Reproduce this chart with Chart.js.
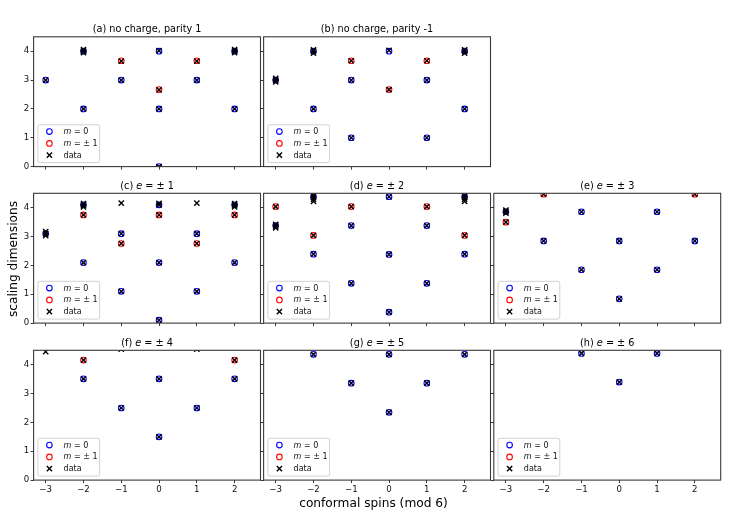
<!DOCTYPE html>
<html>
<head>
<meta charset="utf-8">
<script src="https://cdn.jsdelivr.net/npm/chart.js@4.4.1/dist/chart.umd.min.js"></script>
<style>
  html, body { margin: 0; padding: 0; background: #fff; }
  #page { position: relative; width: 747px; height: 518px; overflow: hidden; background: #fff; }
  #page canvas { position: absolute; left: 0; top: 0; }
</style>
</head>
<body>
<div id="page"></div>
<script>
// Axes ticks
const spinTicks = [-3, -2, -1, 0, 1, 2];
const dimTicks = [0, 1, 2, 3, 4];

// Texts
const panelTitles = [
    '(a) no charge, parity 1',
    '(b) no charge, parity -1',
    '(c) $e$ = ± 1',
    '(d) $e$ = ± 2',
    '(e) $e$ = ± 3',
    '(f) $e$ = ± 4',
    '(g) $e$ = ± 5',
    '(h) $e$ = ± 6'
];
const legendLabels = ['$m$ = 0', '$m$ = ± 1', 'data'];
const xAxisTitle = 'conformal spins (mod 6)';
const yAxisTitle = 'scaling dimensions';

// Points as [spin, scaling dimension]
// (a) no charge, parity 1
const aM0 = [[-3, 3], [-2, 2], [-2, 4], [-1, 3], [0, 0], [0, 2], [0, 4], [1, 3], [2, 2], [2, 4]];
const aM1 = [[-1, 3.67], [0, 2.67], [1, 3.67]];
const aData = [[-3, 3.0], [-2, 2.0], [-2, 3.95], [-2, 4.0], [-2, 4.06], [-1, 3.0], [-1, 3.66], [0, 0.0],
    [0, 2.0], [0, 2.66], [0, 4.02], [1, 3.0], [1, 3.66], [2, 2.0], [2, 3.95], [2, 4.01], [2, 4.06]];

// (b) no charge, parity -1
const bM0 = [[-3, 3], [-2, 2], [-2, 4], [-1, 1], [-1, 3], [0, 4], [1, 1], [1, 3], [2, 2], [2, 4]];
const bM1 = [[-1, 3.67], [0, 2.67], [1, 3.67]];
const bData = [[-3, 2.94], [-3, 3.0], [-3, 3.06], [-2, 2.0], [-2, 3.93], [-2, 4.0], [-2, 4.05], [-1, 1.0],
    [-1, 3.0], [-1, 3.67], [0, 2.67], [0, 4.03], [1, 1.0], [1, 3.0], [1, 3.67], [2, 2.0], [2, 3.93], [2, 4.0], [2, 4.05]];

// (c) e = ±1
const cM0 = [[-3, 3.1], [-2, 2.1], [-2, 4.1], [-1, 1.1], [-1, 3.1], [0, 0.1], [0, 2.1], [0, 4.1], [1, 1.1],
    [1, 3.1], [2, 2.1], [2, 4.1]];
const cM1 = [[-2, 3.75], [-1, 2.76], [0, 3.75], [1, 2.76], [2, 3.75]];
const cData = [[-3, 3.03], [-3, 3.1], [-3, 3.17], [-2, 2.1], [-2, 3.75], [-2, 4.03], [-2, 4.09], [-2, 4.14],
    [-1, 1.1], [-1, 2.76], [-1, 3.1], [-1, 4.16], [0, 0.1], [0, 2.1], [0, 3.75], [0, 4.09], [0, 4.15],
    [1, 1.1], [1, 2.76], [1, 3.1], [1, 4.16], [2, 2.1], [2, 3.75], [2, 4.03], [2, 4.09], [2, 4.14]];

// (d) e = ±2
const dM0 = [[-3, 3.38], [-2, 2.39], [-2, 4.38], [-1, 1.38], [-1, 3.38], [0, 0.38], [0, 2.38], [0, 4.38],
    [1, 1.38], [1, 3.38], [2, 2.39], [2, 4.38]];
const dM1 = [[-3, 4.04], [-2, 3.04], [-1, 4.04], [1, 4.04], [2, 3.04]];
const dData = [[-3, 3.30], [-3, 3.36], [-3, 3.42], [-3, 4.04], [-2, 2.39], [-2, 3.04], [-2, 4.22], [-2, 4.30],
    [-2, 4.37], [-2, 4.43], [-1, 1.38], [-1, 3.38], [-1, 4.04], [0, 0.38], [0, 2.38], [0, 4.38],
    [1, 1.38], [1, 3.38], [1, 4.04], [2, 2.39], [2, 3.04], [2, 4.22], [2, 4.30], [2, 4.37], [2, 4.43]];

// (e) e = ±3
const eM0 = [[-3, 3.86], [-2, 2.85], [-1, 1.85], [-1, 3.86], [0, 0.84], [0, 2.85], [1, 1.85], [1, 3.86], [2, 2.85]];
const eM1 = [[-3, 3.5], [-2, 4.47], [2, 4.47]];
const eData = [[-3, 3.81], [-3, 3.87], [-3, 3.92], [-3, 3.5], [-2, 2.85], [-2, 4.47], [-1, 1.85], [-1, 3.86],
    [0, 0.84], [0, 2.85], [1, 1.85], [1, 3.86], [2, 2.85], [2, 4.47]];

// (f) e = ±4
const fM0 = [[-2, 3.51], [-1, 2.5], [0, 1.5], [0, 3.51], [1, 2.5], [2, 3.51]];
const fM1 = [[-2, 4.16], [2, 4.16]];
const fData = [[-3, 4.45], [-2, 3.51], [-2, 4.16], [-1, 2.5], [-1, 4.54], [0, 1.5], [0, 3.51],
    [1, 2.5], [1, 4.54], [2, 3.51], [2, 4.16]];

// (g) e = ±5
const gM0 = [[-2, 4.36], [-1, 3.36], [0, 2.35], [0, 4.36], [1, 3.36], [2, 4.36]];
const gM1 = [];
const gData = [[-2, 4.36], [-1, 3.36], [0, 2.35], [0, 4.36], [1, 3.36], [2, 4.36]];

// (h) e = ±6
const hM0 = [[-1, 4.39], [0, 3.4], [1, 4.39]];
const hM1 = [];
const hData = [[-1, 4.39], [0, 3.4], [1, 4.39]];

const panelM0 = [aM0, bM0, cM0, dM0, eM0, fM0, gM0, hM0];
const panelM1 = [aM1, bM1, cM1, dM1, eM1, fM1, gM1, hM1];
const panelData = [aData, bData, cData, dData, eData, fData, gData, hData];

// Grid of sub-plots (row, col)
const panelCell = [[0, 0], [0, 1], [1, 0], [1, 1], [1, 2], [2, 0], [2, 1], [2, 2]];
const colLeft = [33.6, 263.6, 493.8];
const rowTop = [36.8, 193.3, 350.3];
const panelW = 226.9;
const panelH = 129.8;
const xRange = [-3.32, 2.685];
const yRange = [0, 4.5];

const FONT = '"DejaVu Sans", "Liberation Sans", sans-serif';
Chart.defaults.font.family = FONT;
Chart.defaults.color = '#000';

const page = document.getElementById('page');

function toPts(list) {
    return list.map(p => ({ x: p[0], y: p[1] }));
}

function minusSign(v) {
    return String(v).replace('-', '\u2212');
}

// Text with $...$ parts in italic, like mathtext
function drawRich(ctx, str, x, y, size, align) {
    const parts = str.split('$');
    const fonts = parts.map((p, k) => (k % 2 ? 'italic ' : '') + size + 'px ' + FONT);
    const widths = parts.map((p, k) => {
        ctx.font = fonts[k];
        return ctx.measureText(p).width;
    });
    const total = widths.reduce((s, w) => s + w, 0);
    let cx = align === 'center' ? x - total / 2 : x;
    ctx.textAlign = 'left';
    parts.forEach((p, k) => {
        ctx.font = fonts[k];
        ctx.fillText(p, cx, y);
        cx += widths[k];
    });
}

function drawCircleMark(ctx, x, y, color) {
    ctx.beginPath();
    ctx.arc(x, y, 2.8, 0, Math.PI * 2);
    ctx.strokeStyle = color;
    ctx.lineWidth = 1.1;
    ctx.stroke();
}

function drawCrossMark(ctx, x, y) {
    const h = 2.6;
    ctx.beginPath();
    ctx.moveTo(x - h, y - h); ctx.lineTo(x + h, y + h);
    ctx.moveTo(x - h, y + h); ctx.lineTo(x + h, y - h);
    ctx.strokeStyle = '#000';
    ctx.lineWidth = 1.4;
    ctx.stroke();
}

// Frame, title and legend of every panel
const panelDecor = {
    id: 'panelDecor',
    afterDraw(chart, args, opts) {
        const ctx = chart.ctx;
        const a = chart.chartArea;
        ctx.save();

        // spines
        ctx.strokeStyle = '#3a3a3a';
        ctx.lineWidth = 1.1;
        ctx.strokeRect(a.left, a.top, a.right - a.left, a.bottom - a.top);

        // title
        ctx.fillStyle = '#000';
        ctx.textBaseline = 'alphabetic';
        drawRich(ctx, opts.title, (a.left + a.right) / 2, a.top - 4.6, 9.7, 'center');

        // legend (lower left)
        const bx = a.left + 4.3, by = a.bottom - 41.8;
        ctx.beginPath();
        ctx.roundRect(bx, by, 61.7, 37.8, 2);
        ctx.fillStyle = 'rgba(255,255,255,0.8)';
        ctx.fill();
        ctx.strokeStyle = '#cccccc';
        ctx.lineWidth = 0.9;
        ctx.stroke();

        const rows = [a.bottom - 35, a.bottom - 23.2, a.bottom - 11.4];
        const mx = a.left + 15.8;
        drawCircleMark(ctx, mx, rows[0], 'blue');
        drawCircleMark(ctx, mx, rows[1], 'red');
        drawCrossMark(ctx, mx, rows[2]);
        ctx.fillStyle = '#111';
        ctx.textBaseline = 'middle';
        legendLabels.forEach((lab, k) => {
            drawRich(ctx, lab, a.left + 30, rows[k] + 0.5, 8, 'left');
        });

        // figure-level axis labels, drawn once
        if (opts.figLabels) {
            ctx.fillStyle = '#000';
            ctx.textBaseline = 'alphabetic';
            ctx.textAlign = 'center';
            ctx.font = '12.2px ' + FONT;
            ctx.fillText(xAxisTitle, 373.5, 506.5);
            ctx.translate(16.5, 259);
            ctx.rotate(-Math.PI / 2);
            ctx.fillText(yAxisTitle, 0, 0);
        }
        ctx.restore();
    }
};

function makePanel(i) {
    const row = panelCell[i][0];
    const col = panelCell[i][1];
    const left = colLeft[col];
    const top = rowTop[row];
    const yW = 24;
    const xH = 16;

    const canvas = document.createElement('canvas');
    canvas.width = 747;
    canvas.height = 518;
    page.appendChild(canvas);

    const gridOpts = {
        drawOnChartArea: false,
        drawTicks: true,
        tickLength: 3,
        lineWidth: 0.9,
        color: '#222'
    };

    new Chart(canvas, {
        type: 'scatter',
        data: {
            datasets: [
                {
                    label: 'data',
                    data: toPts(panelData[i]),
                    pointStyle: 'crossRot',
                    pointRadius: 3.7,
                    pointBorderColor: '#000',
                    pointBackgroundColor: '#000',
                    pointBorderWidth: 1.4,
                    order: 0,
                    clip: 0
                },
                {
                    label: 'm = ±1',
                    data: toPts(panelM1[i]),
                    pointStyle: 'circle',
                    pointRadius: 2.8,
                    pointBorderColor: 'red',
                    pointBackgroundColor: 'rgba(0,0,0,0)',
                    pointBorderWidth: 1.1,
                    order: 1,
                    clip: 0
                },
                {
                    label: 'm = 0',
                    data: toPts(panelM0[i]),
                    pointStyle: 'circle',
                    pointRadius: 2.8,
                    pointBorderColor: 'blue',
                    pointBackgroundColor: 'rgba(0,0,0,0)',
                    pointBorderWidth: 1.1,
                    order: 2,
                    clip: 0
                }
            ]
        },
        options: {
            responsive: false,
            animation: false,
            devicePixelRatio: 1,
            events: [],
            layout: {
                padding: {
                    left: left - yW,
                    top: top,
                    right: 747 - left - panelW,
                    bottom: 518 - top - panelH - xH
                }
            },
            plugins: {
                legend: { display: false },
                tooltip: { enabled: false },
                title: { display: false },
                panelDecor: { title: panelTitles[i], figLabels: i === 0 }
            },
            scales: {
                x: {
                    type: 'linear',
                    min: xRange[0],
                    max: xRange[1],
                    afterFit: s => { s.height = xH; },
                    afterBuildTicks: s => { s.ticks = spinTicks.map(v => ({ value: v })); },
                    grid: gridOpts,
                    border: { display: false },
                    ticks: {
                        display: row === 2,
                        autoSkip: false,
                        maxRotation: 0,
                        padding: 1.5,
                        color: '#111',
                        font: { size: 8.6 },
                        callback: v => minusSign(v)
                    }
                },
                y: {
                    type: 'linear',
                    min: yRange[0],
                    max: yRange[1],
                    afterFit: s => { s.width = yW; },
                    afterBuildTicks: s => { s.ticks = dimTicks.map(v => ({ value: v })); },
                    grid: gridOpts,
                    border: { display: false },
                    ticks: {
                        display: col === 0,
                        autoSkip: false,
                        padding: 1.5,
                        color: '#111',
                        font: { size: 8.6 },
                        callback: v => minusSign(v)
                    }
                }
            }
        },
        plugins: [panelDecor]
    });
}

for (let i = 0; i < panelTitles.length; i++) {
    makePanel(i);
}
</script>
</body>
</html>
